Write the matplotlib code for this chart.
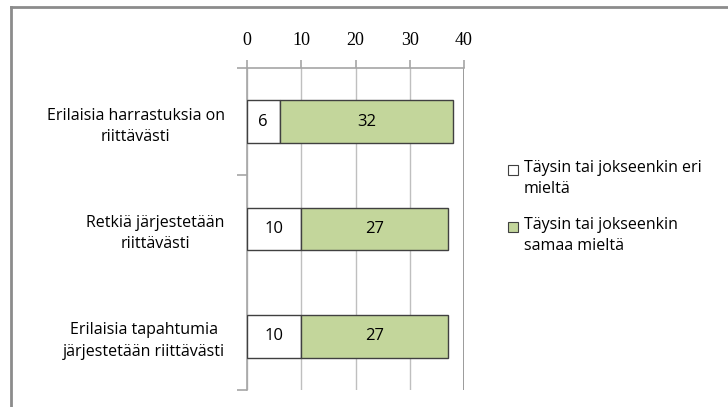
import matplotlib
matplotlib.use("Agg")
import matplotlib.pyplot as plt
import matplotlib.patches as patches
import numpy as np

categories = ["Erilaisia harrastuksia on\nriittävästi",
              "Retkiä järjestetään\nriittävästi",
              "Erilaisia tapahtumia\njärjestetään riittävästi"]
eri_mielta = [6, 10, 10]
samaa_mielta = [32, 27, 27]
series_names = ["Täysin tai jokseenkin eri\nmieltä",
                "Täysin tai jokseenkin\nsamaa mieltä"]
colors = ["#FFFFFF", "#C3D69B"]
xticks = [0, 10, 20, 30, 40]

fig = plt.figure(figsize=(7.28, 4.07), dpi=100)
ax = fig.add_axes([247/728, 1 - 390/407, (464 - 247)/728, (390 - 68)/407])

y = np.arange(len(categories))
h = 0.4
ax.barh(y, eri_mielta, height=h, color=colors[0], edgecolor="#404040", linewidth=1, zorder=3)
ax.barh(y, samaa_mielta, left=eri_mielta, height=h, color=colors[1],
        edgecolor="#404040", linewidth=1, zorder=3)

for i in range(len(categories)):
    ax.text(eri_mielta[i] / 2, y[i], str(eri_mielta[i]), ha="center", va="center",
            fontsize=12, family="Open Sans", zorder=4)
    ax.text(eri_mielta[i] + samaa_mielta[i] / 2, y[i], str(samaa_mielta[i]),
            ha="center", va="center", fontsize=12, family="Open Sans", zorder=4)

ax.set_xlim(0, 40)
ax.set_ylim(len(categories) - 0.5, -0.5)
ax.xaxis.tick_top()
ax.set_xticks(xticks)
ax.set_xticklabels([str(t) for t in xticks], family="Liberation Serif", fontsize=13)
ax.tick_params(axis="x", length=6, color="#A6A6A6", pad=8, width=1.2)
ax.set_yticks(y)
ax.set_yticklabels(categories, family="Open Sans", fontsize=11.5, linespacing=1.45,
                   multialignment="center")
ax.set_yticks([-0.5, 0.5, 2.5], minor=True)
ax.tick_params(axis="y", which="major", length=0, pad=16)
ax.tick_params(axis="y", which="minor", length=7, color="#A6A6A6", width=1.2)

ax.grid(axis="x", color="#BFBFBF", linewidth=1, zorder=0)
ax.axvline(40, color="#808080", linewidth=1.2, zorder=1)
for s in ["right", "bottom"]:
    ax.spines[s].set_visible(False)
ax.spines["left"].set_color("#A6A6A6")
ax.spines["left"].set_linewidth(1.2)
ax.spines["top"].set_color("#A6A6A6")
ax.spines["top"].set_linewidth(1.2)

# legend
leg_y = [170, 227]
for i in range(2):
    yy = 1 - leg_y[i] / 407
    fig.patches.append(patches.Rectangle((508/728, yy - 5/407), 10/728, 10/407,
                                         transform=fig.transFigure, facecolor=colors[i],
                                         edgecolor="#404040", linewidth=0.8))
    fig.text(524/728, yy + 10/407, series_names[i], family="Open Sans", fontsize=11.5,
             va="top", ha="left", linespacing=1.4)

# outer frame
fig.add_artist(plt.Line2D([10.5/728, 10.5/728], [0, 1 - 7/407], transform=fig.transFigure,
                          color="#8C8C8C", linewidth=2))
fig.add_artist(plt.Line2D([10.5/728, 1], [1 - 7/407, 1 - 7/407], transform=fig.transFigure,
                          color="#8C8C8C", linewidth=2))

fig.savefig("out.png", dpi=100)
